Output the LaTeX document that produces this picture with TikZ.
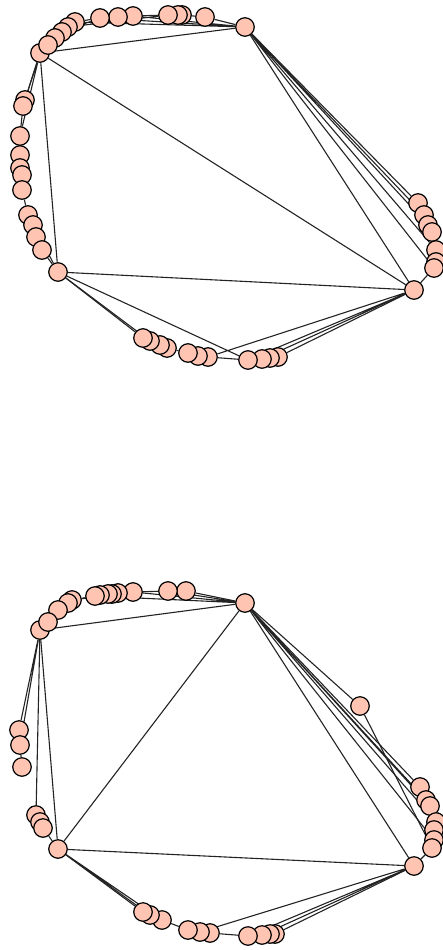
\documentclass[tikz,border=0pt]{standalone}
\usetikzlibrary{backgrounds}
\definecolor{nodefill}{RGB}{255,196,178}
\definecolor{edgecol}{RGB}{35,35,35}
\tikzset{
  vtx/.style={circle,draw=black,line width=1.2pt,fill=nodefill,minimum size=18.5pt,inner sep=0pt},
  lnk/.style={draw=edgecol,line width=1.1pt}
}
\begin{document}
\begin{tikzpicture}[x=1pt,y=-1pt]
\useasboundingbox (0,0) rectangle (443,950);
% ---------- upper graph ----------
\node[vtx] (A) at (245,27) {};
\node[vtx] (B) at (40,53) {};
\node[vtx] (C) at (58,272) {};
\node[vtx] (D) at (414,290) {};
\foreach \x/\y [count=\i] in {205/17,182/15,178/15,168/15,133/16,118/17,100/18,75/22,68/27,62/32,55/38,48/45}
  \node[vtx] (ut\i) at (\x,\y) {};
\foreach \x/\y [count=\i] in {25/100,23/106,20/136,20/155,20/168,22/175,22/190,28/215,33/225,36/237,42/250}
  \node[vtx] (ul\i) at (\x,\y) {};
\foreach \x/\y [count=\i] in {278/357,270/358,262/359,248/360,208/357,198/356,188/353,167/348,160/345,150/341,143/338}
  \node[vtx] (ub\i) at (\x,\y) {};
\foreach \x/\y [count=\i] in {418/203,424/215,428/225,432/232,436/250,436/262,434/268}
  \node[vtx] (ur\i) at (\x,\y) {};
% ---------- lower graph ----------
\node[vtx] (A2) at (245,603) {};
\node[vtx] (B2) at (40,630) {};
\node[vtx] (C2) at (58,849) {};
\node[vtx] (D2) at (414,866) {};
\node[vtx] (E2) at (360,706) {};
\foreach \x/\y [count=\i] in {186/591,168/591,133/592,118/593,112/594,108/594,100/595,95/596,72/600,68/603,58/610,48/622}
  \node[vtx] (lt\i) at (\x,\y) {};
\foreach \x/\y [count=\i] in {19/730,20/745,22/767,36/815,40/822,43/828}
  \node[vtx] (ll\i) at (\x,\y) {};
\foreach \x/\y [count=\i] in {275/934,270/934,262/935,248/936,210/933,200/932,188/930,162/920,150/915,143/912}
  \node[vtx] (lb\i) at (\x,\y) {};
\foreach \x/\y [count=\i] in {420/787,426/800,430/806,436/822,434/830,434/840,432/848}
  \node[vtx] (lr\i) at (\x,\y) {};
% ---------- edges ----------
\begin{scope}[on background layer]
  % upper graph
  \draw[lnk] (A) -- (B) (A) -- (D) (B) -- (D) (B) -- (C) (C) -- (D);
  \draw[lnk] (A) -- (ut1) -- (ut2) -- (ut3) -- (ut4) -- (ut5) -- (ut6) -- (ut7) -- (ut8) -- (ut9) -- (ut10) -- (ut11) -- (ut12) -- (B);
  \draw[lnk] (A) -- (ut5) (A) -- (ut7) (A) -- (ut8) (ut4) -- (ut9) (ut7) -- (ut10);
  \draw[lnk] (B) -- (ul1) -- (ul2) -- (ul3) -- (ul4) -- (ul5) -- (ul6) -- (ul7) -- (ul8) -- (ul9) -- (ul10) -- (ul11) -- (C);
  \draw[lnk] (B) -- (ul2) (B) -- (ul3) (ul3) -- (ul7) (ul8) -- (C);
  \draw[lnk] (C) -- (ub11) -- (ub10) -- (ub9) -- (ub8) -- (ub7) -- (ub6) -- (ub5) -- (ub4) -- (ub3) -- (ub2) -- (ub1) -- (D);
  \draw[lnk] (C) -- (ub10) (C) -- (ub4) (D) -- (ub3) (D) -- (ub4) (D) -- (ub5);
  \draw[lnk] (A) -- (ur1) -- (ur2) -- (ur3) -- (ur4) -- (ur5) -- (ur6) -- (ur7) -- (D);
  \draw[lnk] (A) -- (ur2) (A) -- (ur3) (A) -- (ur5) (A) -- (ur7);
  % lower graph
  \draw[lnk] (A2) -- (B2) (A2) -- (C2) (A2) -- (D2) (B2) -- (C2) (C2) -- (D2);
  \draw[lnk] (A2) -- (E2) -- (lr7);
  \draw[lnk] (A2) -- (lt1) -- (lt2) -- (lt3) -- (lt4) -- (lt5) -- (lt6) -- (lt7) -- (lt8) -- (lt9) -- (lt10) -- (lt11) -- (lt12) -- (B2);
  \draw[lnk] (A2) -- (lt2) (A2) -- (lt3) (A2) -- (lt8) (lt3) -- (lt9);
  \draw[lnk] (B2) -- (ll1) -- (ll2) -- (ll3) (B2) -- (ll2) (B2) -- (ll4) -- (ll5) -- (ll6) -- (C2);
  \draw[lnk] (C2) -- (lb10) -- (lb9) -- (lb8) -- (lb7) -- (lb6) -- (lb5) -- (lb4) -- (lb3) -- (lb2) -- (lb1) -- (D2);
  \draw[lnk] (C2) -- (lb9) (C2) -- (lb8) (D2) -- (lb3) (D2) -- (lb4) (D2) -- (lb6);
  \draw[lnk] (A2) -- (lr1) -- (lr2) -- (lr3) -- (lr4) -- (lr5) -- (lr6) -- (lr7) -- (D2);
  \draw[lnk] (A2) -- (lr2) (A2) -- (lr3) (A2) -- (lr4) (A2) -- (lr6);
\end{scope}
\end{tikzpicture}
\end{document}
